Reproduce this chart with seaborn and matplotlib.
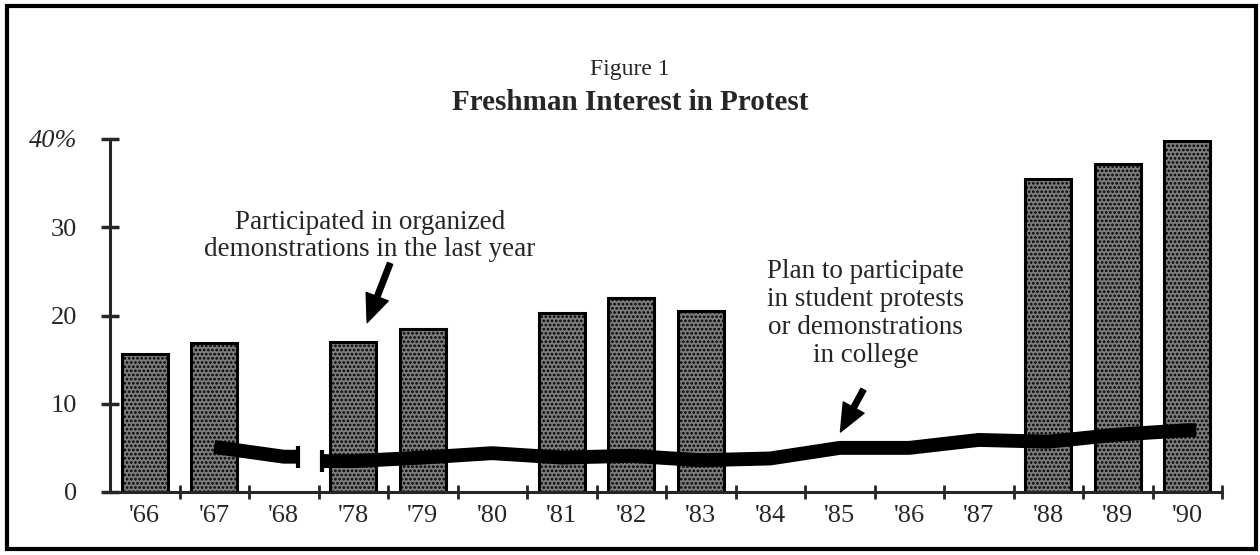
import numpy as np
import pandas as pd
import matplotlib
matplotlib.use("Agg")
import matplotlib.pyplot as plt
import matplotlib.patches as mpatches
import seaborn as sns

# -------------------------
# Data
# -------------------------
years = ["'66", "'67", "'68", "'78", "'79", "'80", "'81", "'82", "'83",
         "'84", "'85", "'86", "'87", "'88", "'89", "'90"]
# Participated in organized demonstrations in the last year (bars, %)
participated = [15.6, 16.9, np.nan, 17.0, 18.5, np.nan, 20.3, 22.0, 20.5,
                np.nan, np.nan, np.nan, np.nan, 35.5, 37.2, 39.8]
# Plan to participate in student protests (line, %)
plan = [np.nan, 5.1, 4.0, 3.5, 3.9, 4.4, 3.9, 4.1, 3.6,
        3.8, 5.0, 5.0, 5.9, 5.7, 6.5, 7.0]
y_ticks = [0, 10, 20, 30, 40]
y_labels = ["0", "10", "20", "30", "40%"]

df = pd.DataFrame({"year": years, "participated": participated, "plan": plan})
df["pos"] = np.arange(len(df))

# -------------------------
# Style
# -------------------------
sns.set_style("ticks")
plt.rcParams["font.family"] = ["Liberation Serif", "DejaVu Serif"]
plt.rcParams["hatch.linewidth"] = 1.3
plt.rcParams["hatch.color"] = "black"

fig = plt.figure(figsize=(12.6, 5.55), dpi=100)
ax = fig.add_axes([110 / 1260, 63 / 555, 1112 / 1260, 353 / 555])

# bars
sns.barplot(data=df, x="year", y="participated", order=years, color="#7d7d7d",
            width=0.66, edgecolor="black", linewidth=2.2, saturation=1, ax=ax)
for bar in ax.patches:
    bar.set_hatch("....")

# line, broken between '68 and '78
seg1 = df[df["pos"].between(1, 2)][["pos", "plan"]].copy()
seg2 = df[df["pos"] >= 3][["pos", "plan"]].copy()
seg1 = pd.concat([seg1, pd.DataFrame({"pos": [2.2], "plan": [seg1["plan"].iloc[-1]]})])
seg2 = pd.concat([pd.DataFrame({"pos": [2.55], "plan": [seg2["plan"].iloc[0]]}), seg2,
                  pd.DataFrame({"pos": [15.13], "plan": [seg2["plan"].iloc[-1]]})])
for seg in (seg1, seg2):
    sns.lineplot(data=seg, x="pos", y="plan", color="black", linewidth=10,
                 sort=False, ax=ax, solid_capstyle="butt", solid_joinstyle="round")
ax.plot([seg1["pos"].iloc[-1], seg2["pos"].iloc[0]],
        [seg1["plan"].iloc[-1], seg2["plan"].iloc[0]],
        linestyle="none", marker="|", markersize=16, markeredgewidth=3, color="black")

# axes
ax.set_xlim(-0.5, len(years) - 0.5)
ax.set_ylim(0, 40)
ax.set_xlabel("")
ax.set_ylabel("")
ax.set_yticks(y_ticks)
ax.set_yticklabels(y_labels, fontsize=19)
ax.get_yticklabels()[-1].set_style("italic")
ax.set_xticks(df["pos"])
ax.set_xticklabels(years, fontsize=19)
ax.set_xticks(np.arange(len(years)) + 0.5, minor=True)
ax.tick_params(axis="x", which="major", length=0, pad=9)
ax.tick_params(axis="x", which="minor", direction="inout", length=10, width=2)
ax.tick_params(axis="y", direction="inout", length=13, width=2.5, pad=17)
for s in ("top", "right"):
    ax.spines[s].set_visible(False)
for s in ("left", "bottom"):
    ax.spines[s].set_linewidth(2.2)

# annotations
arrow = dict(width=4, headwidth=17, headlength=20, color="black", shrink=0)
ax.text(3.24, 29.0, "Participated in organized\ndemonstrations in the last year",
        ha="center", va="center", fontsize=19.5, linespacing=1.12)
ax.annotate("", xy=(3.20, 19.2), xytext=(3.53, 25.9), arrowprops=arrow)
ax.text(10.37, 20.2, "Plan to participate\nin student protests\nor demonstrations\nin college",
        ha="center", va="center", fontsize=19.5, linespacing=1.15)
ax.annotate("", xy=(10.01, 6.8), xytext=(10.34, 11.6), arrowprops=arrow)

# titles
fig.text(0.5, 1 - 70 / 555, "Figure 1", ha="center", va="center", fontsize=17)
fig.text(0.5, 1 - 103 / 555, "Freshman Interest in Protest", ha="center", va="center",
         fontsize=21, fontweight="bold")

# frame around the figure
fig.patches.append(mpatches.Rectangle((7 / 1260, 6 / 555), 1249 / 1260, 543 / 555,
                                      transform=fig.transFigure, fill=False,
                                      edgecolor="black", linewidth=3))

fig.savefig("out.png", dpi=100)
